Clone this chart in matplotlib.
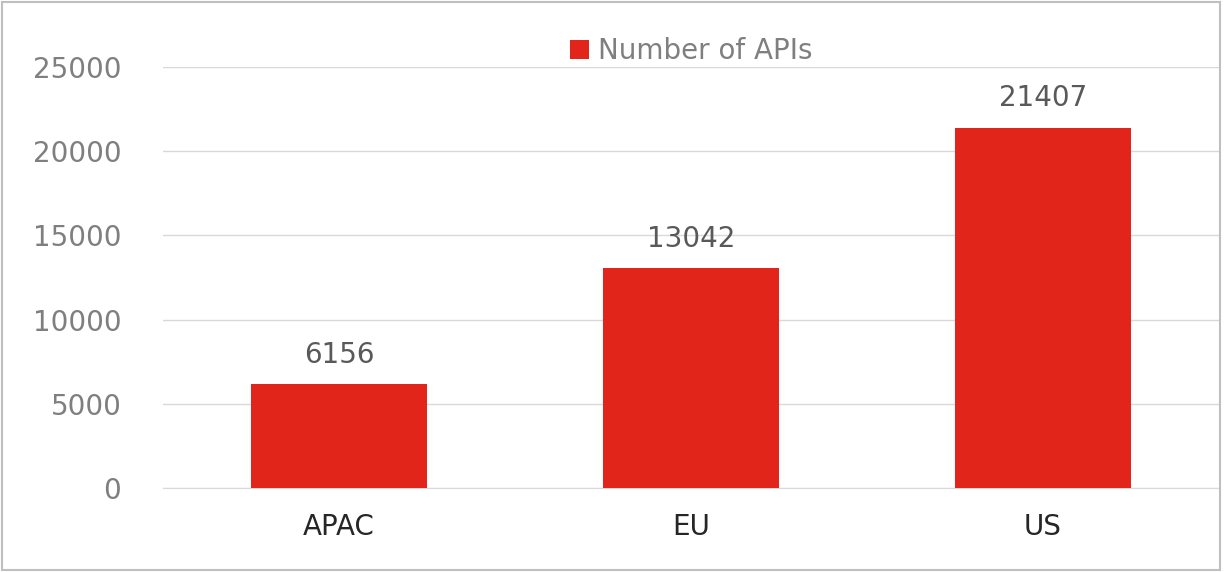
import matplotlib.pyplot as plt
from matplotlib.patches import Rectangle

regions = ['APAC', 'EU', 'US']
api_counts = [6156, 13042, 21407]
y_ticks = [0, 5000, 10000, 15000, 20000, 25000]

fig = plt.figure(figsize=(12.24, 5.72), dpi=100)
ax = fig.add_axes([163 / 1224, 84 / 572, 1056 / 1224, 421 / 572])

bars = ax.bar(regions, api_counts, width=0.5, color='#E1251B', label='Number of APIs', zorder=3)
for b, v in zip(bars, api_counts):
    ax.text(b.get_x() + b.get_width() / 2, v + 900, str(v), ha='center', va='bottom',
            fontsize=20, color='#595959')

ax.set_xlim(-0.5, 2.5)
ax.set_ylim(0, 25000)
ax.set_yticks(y_ticks)
ax.grid(axis='y', color='#d9d9d9', linewidth=1, zorder=0)
for s in ['top', 'right', 'left']:
    ax.spines[s].set_visible(False)
ax.spines['bottom'].set_color('#d9d9d9')
ax.tick_params(axis='y', length=0, labelsize=20, labelcolor='#7f7f7f', pad=30)
ax.tick_params(axis='x', length=0, labelsize=20, labelcolor='#262626', pad=18)

ax.legend(loc='upper center', bbox_to_anchor=(0.5, 1.13), frameon=False, fontsize=20,
          labelcolor='#7f7f7f', handlelength=0.7, handleheight=0.7, handletextpad=0.3)

fig.patches.append(Rectangle((0.002, 0.004), 0.995, 0.992, transform=fig.transFigure,
                             fill=False, edgecolor='#bfbfbf', linewidth=1.5))
fig.savefig('out.png', dpi=100)
